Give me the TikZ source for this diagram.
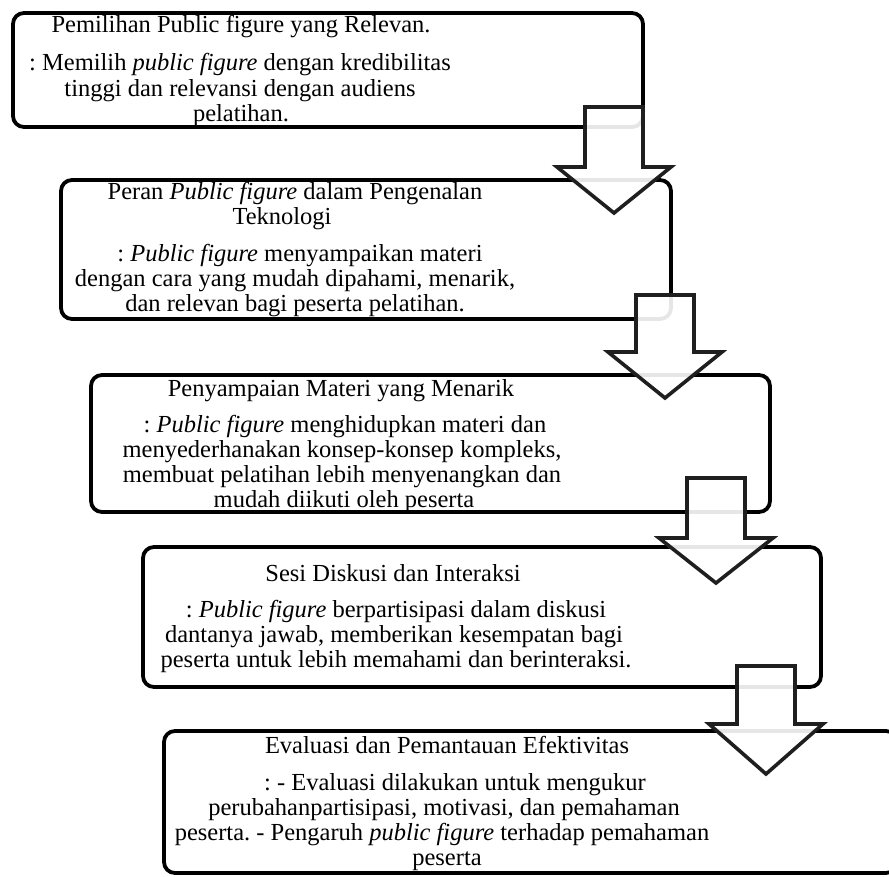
\documentclass[tikz,border=0pt]{standalone}
\usepackage{fontspec}
\setmainfont{Liberation Serif}
\frenchspacing
\newcommand{\downarr}[4]{%
  \draw[blockarrow] (#1-29,#2) -- (#1+29,#2) -- (#1+29,#3) -- (#1+57,#3) -- (#1,#4) -- (#1-57,#3) -- (#1-29,#3) -- cycle;}
\begin{document}
\begin{tikzpicture}[x=1pt,y=-1pt,
  box/.style={draw=black, line width=3.8pt, rounded corners=11pt, inner sep=0pt},
  blockarrow/.style={draw=black!88, line width=3.6pt, fill=white, fill opacity=0.9, line join=miter},
  txt/.style={anchor=base, inner sep=0pt, font=\fontsize{24.5}{26}\selectfont}]
\useasboundingbox (0,0) rectangle (889,877);
\clip (0,0) rectangle (889,877);
% boxes
\node[box, minimum width=630pt, minimum height=114pt] (b1) at (328,70) {};
\node[box, minimum width=610pt, minimum height=139pt] (b2) at (366,249.5) {};
\node[box, minimum width=679pt, minimum height=137pt] (b3) at (430.5,443.5) {};
\node[box, minimum width=678pt, minimum height=140pt] (b4) at (482,617) {};
\node[box, minimum width=733pt, minimum height=142pt] (b5) at (530.5,802) {};
% box 1 text
\node[txt] (t1a) at (241,33) {Pemilihan Public figure yang Relevan.};
\node[txt] (t1b) at (240,71) {: Memilih \textit{public figure} dengan kredibilitas};
\node[txt] (t1c) at (240,97) {tinggi dan relevansi dengan audiens};
\node[txt] (t1d) at (241,122) {pelatihan.};
% box 2 text
\node[txt] (t2a) at (295,200) {Peran \textit{Public figure} dalam Pengenalan};
\node[txt] (t2b) at (282,225) {Teknologi};
\node[txt] (t2c) at (300,262) {: \textit{Public figure} menyampaikan materi};
\node[txt] (t2d) at (295,287) {dengan cara yang mudah dipahami, menarik,};
\node[txt] (t2e) at (295,312) {dan relevan bagi peserta pelatihan.};
% box 3 text
\node[txt] (t3a) at (341,396) {Penyampaian Materi yang Menarik};
\node[txt] (t3b) at (345,432) {: \textit{Public figure} menghidupkan materi dan};
\node[txt] (t3c) at (342,457) {menyederhanakan konsep-konsep kompleks,};
\node[txt] (t3d) at (342,482) {membuat pelatihan lebih menyenangkan dan};
\node[txt] (t3e) at (344,507) {mudah diikuti oleh peserta};
% box 4 text
\node[txt] (t4a) at (393,581) {Sesi Diskusi dan Interaksi};
\node[txt] (t4b) at (396,617) {: \textit{Public figure} berpartisipasi dalam diskusi};
\node[txt] (t4c) at (394,642) {dantanya jawab, memberikan kesempatan bagi};
\node[txt] (t4d) at (396,667) {peserta untuk lebih memahami dan berinteraksi.};
% box 5 text
\node[txt] (t5a) at (447,753) {Evaluasi dan Pemantauan Efektivitas};
\node[txt] (t5b) at (455,790) {: - Evaluasi dilakukan untuk mengukur};
\node[txt] (t5c) at (444,815) {perubahanpartisipasi, motivasi, dan pemahaman};
\node[txt] (t5d) at (442,840) {peserta. - Pengaruh \textit{public figure} terhadap pemahaman};
\node[txt] (t5e) at (447,865) {peserta};
% block arrows
\downarr{614}{107}{167}{213}
\downarr{665}{295}{352}{398}
\downarr{716}{478}{538}{583}
\downarr{766}{666}{724}{774}
\end{tikzpicture}
\end{document}
